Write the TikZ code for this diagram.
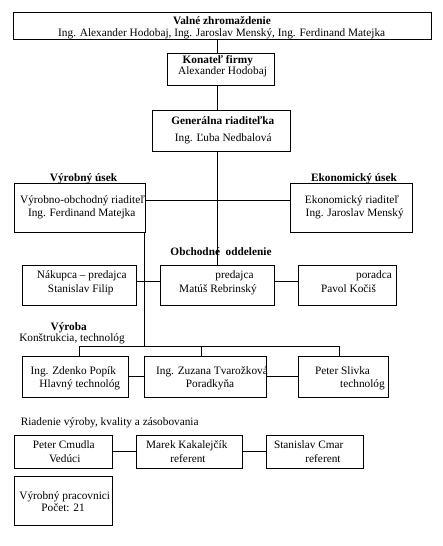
\documentclass[tikz,border=0pt]{standalone}
\usepackage{fontspec}
\setmainfont{Liberation Serif}
\usetikzlibrary{calc}
\tikzset{
  box/.style={draw, line width=0.8pt, inner sep=0pt, outer sep=0pt},
  txt/.style={inner sep=0pt, anchor=base, font=\fontsize{11.3}{13}\selectfont},
  btxt/.style={txt, font=\fontsize{11.3}{13}\selectfont\bfseries}
}
\begin{document}
\begin{tikzpicture}[x=1pt,y=-1pt,line width=0.8pt]
\useasboundingbox (0,0) rectangle (442,546);
% boxes
\node[box,minimum width=418.4pt,minimum height=27pt] (valne) at (222.5,25.8) {};
\node[box,minimum width=106.6pt,minimum height=32pt] (konatel) at (221,69.3) {};
\node[box,minimum width=137.7pt,minimum height=41pt] (general) at (221.2,130.5) {};
\node[box,minimum width=130.7pt,minimum height=49.4pt] (vyrobno) at (79.7,208) {};
\node[box,minimum width=122pt,minimum height=49.4pt] (ekon) at (351.3,208) {};
\node[box,minimum width=114.4pt,minimum height=40.3pt] (nakup) at (79.5,285.2) {};
\node[box,minimum width=114pt,minimum height=40.3pt] (predaj) at (217.3,285.2) {};
\node[box,minimum width=98pt,minimum height=40.3pt] (porad) at (347.3,285.2) {};
\node[box,minimum width=106pt,minimum height=41.3pt] (popik) at (75.3,376.7) {};
\node[box,minimum width=122.4pt,minimum height=41.3pt] (tvaroz) at (205.5,376.7) {};
\node[box,minimum width=90pt,minimum height=41.3pt] (slivka) at (343.3,376.7) {};
\node[box,minimum width=98.4pt,minimum height=33pt] (cmudla) at (63.5,451.8) {};
\node[box,minimum width=106pt,minimum height=33pt] (kakal) at (189.3,451.8) {};
\node[box,minimum width=97pt,minimum height=33pt] (cmar) at (314.8,451.8) {};
\node[box,minimum width=98.4pt,minimum height=48.6pt] (pracov) at (63.5,501) {};

% texts
\node[btxt] (valneA) at (222,24) {Valné zhromaždenie};
\node[txt] (valneB) at (221.7,36) {Ing. Alexander Hodobaj, Ing. Jaroslav Menský, Ing. Ferdinand Matejka};
\node[btxt] (konatelA) at (217.8,63.5) {Konateľ firmy};
\node[txt] (konatelB) at (222.5,74.2) {Alexander Hodobaj};
\node[btxt] (generalA) at (222.8,124.5) {Generálna riaditeľka};
\node[txt] (generalB) at (223.2,141.8) {Ing. Ľuba Nedbalová};
\node[btxt] (vyrobU) at (83.5,181) {Výrobný úsek};
\node[btxt] (ekonU) at (354,181) {Ekonomický úsek};
\node[txt] (vyrobnoA) at (82.5,203.5) {Výrobno-obchodný riaditeľ};
\node[txt] (vyrobnoB) at (81.7,216.8) {Ing. Ferdinand Matejka};
\node[txt] (ekonA) at (352,203.5) {Ekonomický riaditeľ};
\node[txt] (ekonB) at (354.7,216.8) {Ing. Jaroslav Menský};
\node[btxt] (obchodU) at (221,255.2) {Obchodné\ \ oddelenie};
\node[txt] (nakupA) at (81.8,278.8) {Nákupca – predajca};
\node[txt] (nakupB) at (80.8,292) {Stanislav Filip};
\node[txt] (predajA) at (234.5,278.8) {predajca};
\node[txt] (predajB) at (218,292) {Matúš Rebrinský};
\node[txt] (poradA) at (374,278.8) {poradca};
\node[txt] (poradB) at (348.5,292) {Pavol Kočiš};
\node[btxt] (vyrobaU) at (68.7,330.2) {Výroba};
\node[txt] (vyrobaB) at (72,341.2) {Konštrukcia, technológ};
\node[txt] (popikA) at (73.3,374.8) {Ing. Zdenko Popík};
\node[txt] (popikB) at (79.8,387) {Hlavný technológ};
\node[txt] (tvarozA) at (212,374.8) {Ing. Zuzana Tvarožková};
\node[txt] (tvarozB) at (210,387) {Poradkyňa};
\node[txt] (slivkaA) at (342.5,374.8) {Peter Slivka};
\node[txt] (slivkaB) at (362.5,387) {technológ};
\node[txt] (riadenie) at (109.7,425.2) {Riadenie výroby, kvality a zásobovania};
\node[txt] (cmudlaA) at (63.8,448.8) {Peter Cmudla};
\node[txt] (cmudlaB) at (64.7,462.2) {Vedúci};
\node[txt] (kakalA) at (186.8,448.8) {Marek Kakalejčík};
\node[txt] (kakalB) at (188,462.2) {referent};
\node[txt] (cmarA) at (308.7,448.8) {Stanislav Cmar};
\node[txt] (cmarB) at (323,462.2) {referent};
\node[txt] (pracovA) at (64.7,499.2) {Výrobný pracovnici};
\node[txt] (pracovB) at (63,511.8) {Počet: 21};

% connectors
\coordinate (spine) at (217,0);
\draw (valne.south -| spine) -- (konatel.north -| spine);
\draw (konatel.south -| spine) -- (general.north -| spine);
\draw (general.south -| spine) -- (predaj.north -| spine);
\draw ([yshift=8pt]vyrobno.east) -- ([yshift=8pt]ekon.west);
\coordinate (bus) at (144.5,346);
\coordinate (busL) at (79.3,346);
\coordinate (busM) at (201.3,346);
\coordinate (busR) at (339.3,346);
\draw (vyrobno.south -| bus) -- (bus);
\draw (busL) -- (busR);
\draw (busL) -- (busL |- popik.north);
\draw (busM) -- (busM |- tvaroz.north);
\draw (busR) -- (busR |- slivka.north);
\draw ([yshift=3.5pt]nakup.east) -- ([yshift=3.5pt]predaj.west);
\draw ([yshift=3.5pt]predaj.east) -- ([yshift=3.5pt]porad.west);
\draw (popik.east) -- (tvaroz.west);
\draw (tvaroz.east) -- (slivka.west);
\draw (cmudla.east) -- (kakal.west);
\draw (kakal.east) -- (cmar.west);
\end{tikzpicture}
\end{document}
